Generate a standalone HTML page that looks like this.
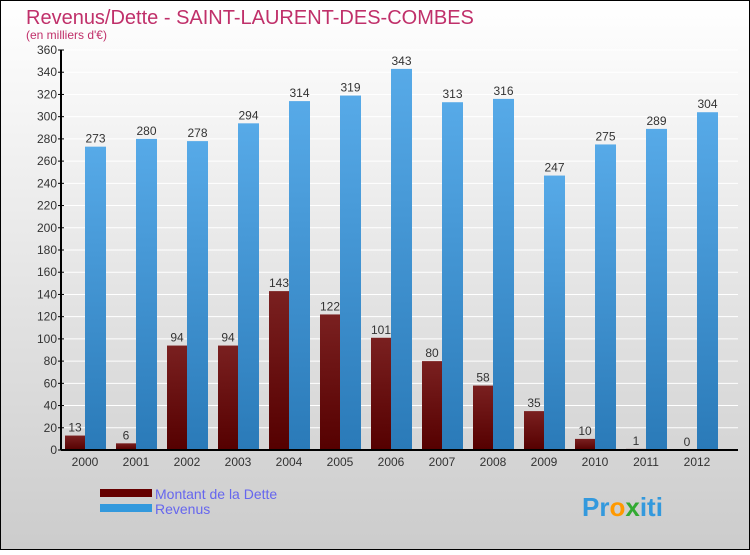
<!DOCTYPE html>
<html><head><meta charset="utf-8"><style>
body{margin:0;}
#c{width:750px;height:550px;position:relative;font-family:"Liberation Sans",sans-serif;}
</style></head><body>
<div id="c">
<svg width="750" height="550" xmlns="http://www.w3.org/2000/svg" id="svg">
<defs>
<linearGradient id="bg" x1="0" y1="0" x2="0" y2="1"><stop offset="0" stop-color="#ffffff"/><stop offset="1" stop-color="#cccccc"/></linearGradient>
<linearGradient id="gd" x1="0" y1="0" x2="0" y2="1"><stop offset="0" stop-color="#7a2020"/><stop offset="1" stop-color="#550000"/></linearGradient>
<linearGradient id="gr" x1="0" y1="0" x2="0" y2="1"><stop offset="0" stop-color="#57aae8"/><stop offset="1" stop-color="#2a7ab8"/></linearGradient>
</defs>
<rect x="0.5" y="0.5" width="749" height="549" fill="url(#bg)" stroke="#000"/>
<text x="26" y="24" font-size="20" fill="#c0306a">Revenus/Dette - SAINT-LAURENT-DES-COMBES</text>
<text x="26" y="39" font-size="12" fill="#c0306a">(en milliers d'€)</text>
<g id="grid"></g><g id="bars"></g><g id="axes"></g>
<rect x="100" y="489" width="52" height="8" fill="#660000"/>
<text x="155" y="499" font-size="14" fill="#6666ee">Montant de la Dette</text>
<rect x="100" y="504" width="52" height="8" fill="#3399dd"/>
<text x="155" y="514" font-size="14" fill="#6666ee">Revenus</text>
<text x="582" y="516" font-size="26" font-weight="bold"><tspan fill="#3399dd">Pr</tspan><tspan fill="#ff9900">o</tspan><tspan fill="#33aa33">x</tspan><tspan fill="#3399dd">iti</tspan></text>
</svg></div>
<script>
const years=["2000","2001","2002","2003","2004","2005","2006","2007","2008","2009","2010","2011","2012"];
const dette=[13,6,94,94,143,122,101,80,58,35,10,1,0];
const revenus=[273,280,278,294,314,319,343,313,316,247,275,289,304];
const yTicks=[0,20,40,60,80,100,120,140,160,180,200,220,240,260,280,300,320,340,360];
const NS="http://www.w3.org/2000/svg";
const x0=61,x1=738,y0=450,yTop=50,yMax=360;
function y(v){return y0-(v/yMax)*(y0-yTop);}
function xc(i){return 85+i*51;}
function mk(t,a,p){const e=document.createElementNS(NS,t);for(const k in a)e.setAttribute(k,a[k]);p.appendChild(e);return e;}
const G=document.getElementById('grid'),B=document.getElementById('bars'),A=document.getElementById('axes');
yTicks.forEach(v=>{
 const l=mk('line',{x1:x0,x2:x1,y1:y(v),y2:y(v),stroke:'#fff','stroke-width':1},G);
 
 
 const tk=mk('line',{x1:x0-3,x2:x0+3,y1:y(v),y2:y(v),stroke:'#000'},A);
 
 
 const t=mk('text',{x:x0-4,y:y(v)+4,'font-size':12,'text-anchor':'end',fill:'#333'},A);
 t.textContent=v;
 
 
});
years.forEach((yr,i)=>{
 const c=xc(i);
 const d=mk('rect',{x:c-20,y:y(dette[i]),width:20,height:y0-y(dette[i]),fill:'url(#gd)'},B);
 
 
 const r=mk('rect',{x:c,y:y(revenus[i]),width:21,height:y0-y(revenus[i]),fill:'url(#gr)'},B);
 
 
 const td=mk('text',{x:c-10,y:y(dette[i])-4,'font-size':12,'text-anchor':'middle',fill:'#333'},B);
 td.textContent=dette[i];
 
 
 const tr=mk('text',{x:c+10.5,y:y(revenus[i])-4,'font-size':12,'text-anchor':'middle',fill:'#333'},B);
 tr.textContent=revenus[i];
 
 
 const tx=mk('text',{x:c,y:466,'font-size':12,'text-anchor':'middle',fill:'#333'},A);
 tx.textContent=yr;
 
 
});
const ya=mk('line',{x1:x0,x2:x0,y1:yTop,y2:y0,stroke:'#000','stroke-width':2},A);


const xa=mk('line',{x1:x0,x2:x1,y1:y0,y2:y0,stroke:'#000','stroke-width':2},A);


</script>
</body></html>
